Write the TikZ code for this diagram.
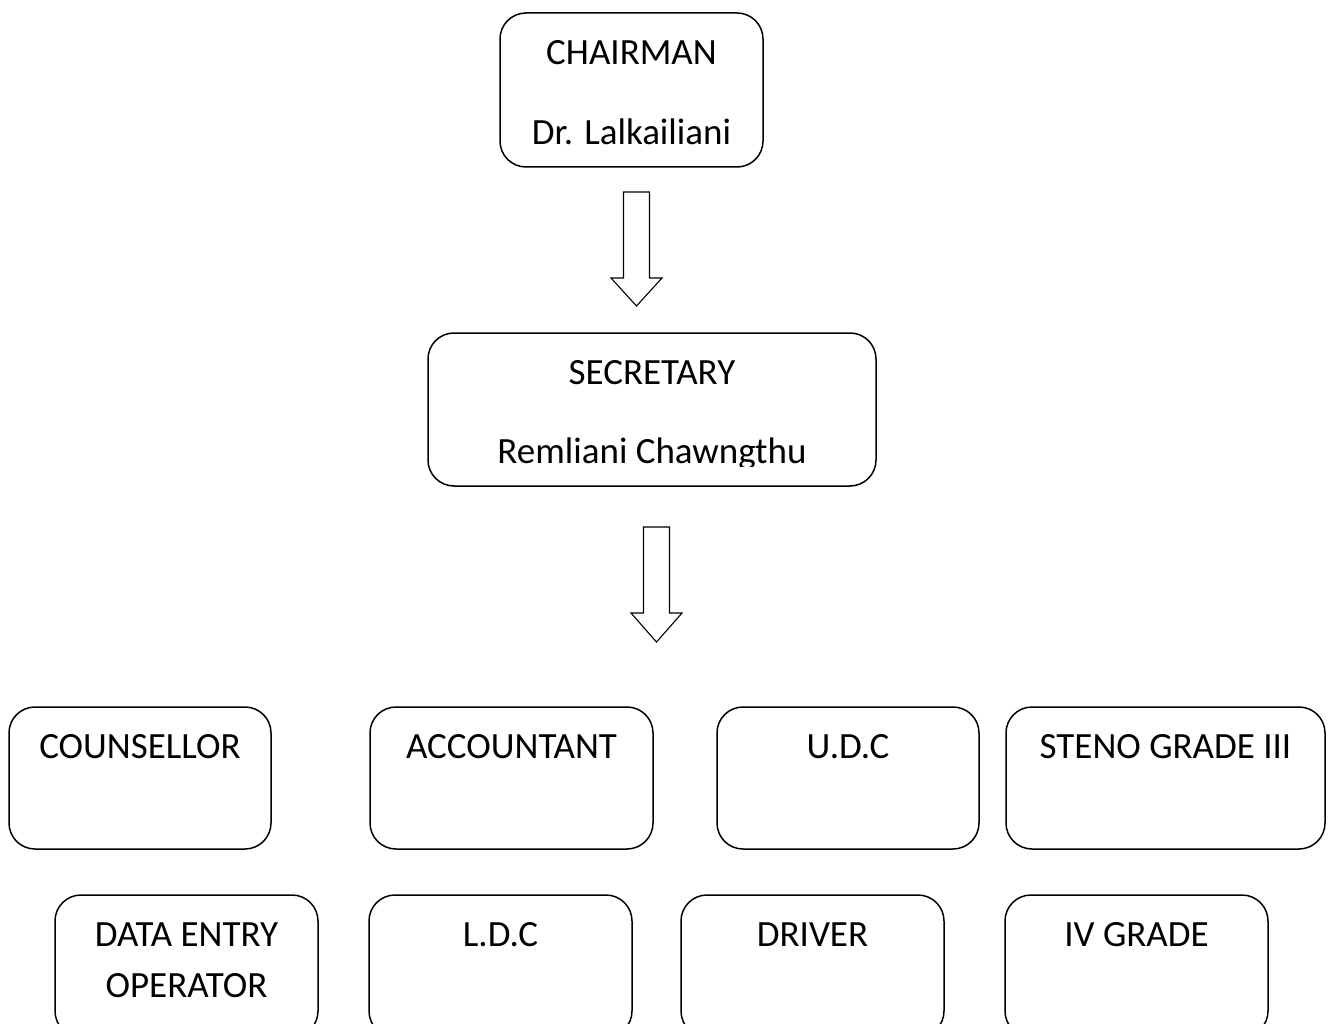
\documentclass[tikz,border=0pt]{standalone}
\usepackage{fontspec}
\setmainfont{Carlito}
\usetikzlibrary{positioning}
\tikzset{
  box/.style={draw, line width=1.5pt, rounded corners=26pt, inner sep=0pt},
  lbl/.style={font=\fontsize{37}{44}\selectfont, inner sep=0pt, anchor=base},
  blockarrow/.style={draw, line width=1.1pt, line join=miter},
}
\begin{document}
\begin{tikzpicture}[x=1pt,y=-1pt]
  \clip (0,0) rectangle (1333,1024);
  % chairman and secretary
  \node[box, minimum width=263pt, minimum height=154pt] (chair) at (631.5,90) {};
  \node[lbl] (chairT) at ([yshift=-52pt]chair.north) {CHAIRMAN};
  \node[lbl] (chairN) at ([yshift=-132pt]chair.north) {Dr. Lalkailiani};
  \node[box, minimum width=448pt, minimum height=153pt] (secr) at (652,409.5) {};
  \node[lbl] (secrT) at ([yshift=-52pt]secr.north) {SECRETARY};
  \begin{scope}
    \clip (secr.north west) rectangle ([yshift=20pt]secr.south east);
    \node[lbl] (secrN) at ([yshift=-131pt]secr.north) {Remliani Chawngthu};
  \end{scope}
  % hollow down arrows
  \foreach \cx/\top/\base/\tip in {636.5/192/278/306, 656.5/527/613/642}
    \draw[blockarrow] (\cx-13,\top) -- (\cx+13,\top) -- (\cx+13,\base) -- (\cx+25.5,\base)
      -- (\cx,\tip) -- (\cx-25.5,\base) -- (\cx-13,\base) -- cycle;
  % staff
  \foreach \name/\cx/\cy/\w/\txt in {
      couns/140/778/262/COUNSELLOR,
      accnt/511.5/778/283/ACCOUNTANT,
      udc/848/778/262/U.D.C,
      steno/1165.5/778/319/STENO GRADE III,
      deo/186.5/966/263/DATA ENTRY,
      ldc/500.5/966/263/L.D.C,
      driver/812.5/966/263/DRIVER,
      grade/1136.5/966/263/IV GRADE} {
    \node[box, minimum width=\w pt, minimum height=142pt] (\name) at (\cx,\cy) {};
    \node[lbl] (\name T) at ([yshift=-52pt]\name.north) {\txt};
  }
  \node[lbl] (deoB) at ([yshift=-103pt]deo.north) {OPERATOR};
\end{tikzpicture}
\end{document}
